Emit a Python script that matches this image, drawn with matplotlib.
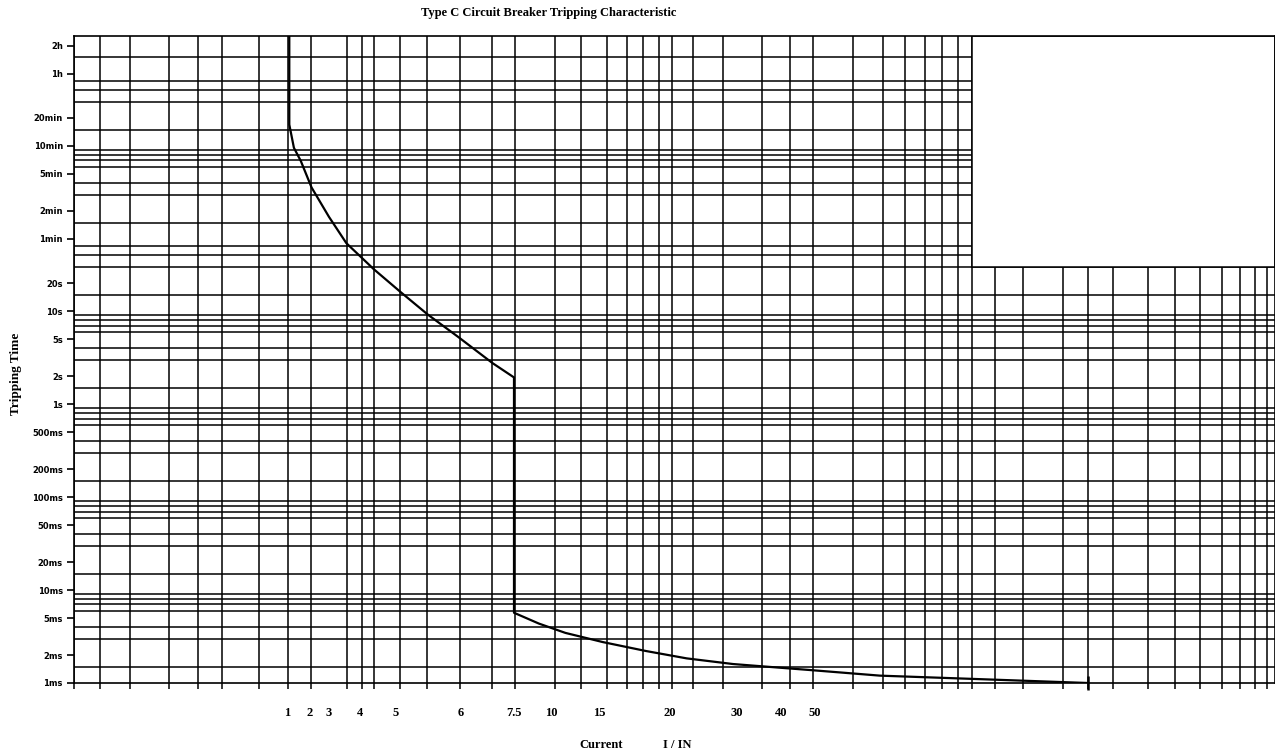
import numpy as np
import matplotlib
matplotlib.use('Agg')
import matplotlib.pyplot as plt
from matplotlib.patches import Rectangle
from matplotlib.ticker import NullFormatter

# tripping curve: I/IN against time in seconds
current = [1.1, 1.1, 1.30, 1.60, 2.08, 3.0, 3.56, 4.38, 5.07, 5.49, 5.96, 6.89, 7.5,
           7.5, 9.18, 11.5, 15.25, 18.3, 22.5, 29.4, 39.8, 49.5, 61.9, 80.2, 100]
trip_time = [9150, 1020, 574, 414, 215, 103.5, 54, 28.4, 16.1, 9.2, 5.27, 2.77, 1.94,
             0.0057, 0.00436, 0.00346, 0.00276, 0.00221, 0.00184, 0.0016, 0.00146,
             0.00137, 0.0012, 0.0011, 0.001]

x_ticks = [1, 2, 3, 4, 5, 6, 7.5, 10, 15, 20, 30, 40, 50]
x_labels = ['1', '2', '3', '4', '5', '6', '7.5', '10', '15', '20', '30', '40', '50']

y_ticks = [7200, 3600, 1200, 600, 300, 120, 60, 20, 10, 5, 2, 1,
           0.5, 0.2, 0.1, 0.05, 0.02, 0.01, 0.005, 0.002, 0.001]
y_labels = ['2h', '1h', '20min', '10min', '5min', '2min', '1min', '20s', '10s', '5s',
            '2s', '1s', '500ms', '200ms', '100ms', '50ms', '20ms', '10ms', '5ms',
            '2ms', '1ms']

# the paper's current axis is not a clean log scale, so map it piecewise
scale_I = [0.1] + x_ticks + [100, 250]
scale_px = [74, 287, 310, 329, 360, 396, 461, 514, 551, 599, 670, 737, 781, 815, 1088, 1275]

# vertical rulings of the paper (pixel columns)
grid_px = [74, 100, 130, 169, 198, 222, 259, 288, 311, 329, 347, 362, 374, 400, 427,
           460, 492, 515, 555, 581, 607, 627, 643, 659, 672, 693, 723, 762, 790, 813,
           853, 883, 905, 925, 942, 958, 972, 995, 1023, 1063, 1088, 1113, 1148, 1175,
           1200, 1222, 1240, 1255, 1267]
box_left_px = 972
t_top = 9150


def fwd(v):
  return np.interp(v, scale_I, scale_px)


def inv(v):
  return np.interp(v, scale_px, scale_I)


# horizontal rulings: time steps in each range
hgrid = []
for dec in [1e-3, 1e-2, 1e-1, 1]:
  hgrid += [dec * m for m in [1, 1.5, 2, 3, 4, 5, 6, 7, 8, 9]]
hgrid += [10, 15, 20, 30, 40, 50]
hgrid += [60 * m for m in [1, 1.5, 2, 3, 4, 5, 6, 7, 8, 9]]
hgrid += [60 * m for m in [10, 15, 20, 30, 40, 50]]
hgrid += [3600 * m for m in [1, 1.5, 2]]

W, H = 1275, 754
fig = plt.figure(figsize=(W / 100, H / 100), dpi=100)
ax = fig.add_axes([74 / W, 1 - 683 / H, (1275 - 74) / W, (683 - 36) / H])

ax.set_yscale('log')
ax.set_xscale('function', functions=(fwd, inv))
ax.set_xlim(0.1, 250)
ax.set_ylim(1e-3, t_top)

ax.set_xticks(inv(np.array(grid_px, dtype=float)), minor=True)
ax.set_xticks(x_ticks)
ax.set_xticklabels(x_labels, family='Liberation Serif', fontweight='bold', fontsize=9)
ax.set_yticks(hgrid, minor=True)
ax.set_yticks(y_ticks)
ax.set_yticklabels(y_labels, family='DejaVu Sans', fontweight='bold', fontsize=6)
ax.xaxis.set_minor_formatter(NullFormatter())
ax.yaxis.set_minor_formatter(NullFormatter())

ax.tick_params(axis='x', which='major', length=0, pad=17)
ax.tick_params(axis='x', which='minor', length=4, width=1.1, direction='out')
ax.tick_params(axis='y', which='major', length=5, width=1.2, direction='out', pad=3)
ax.tick_params(axis='y', which='minor', length=0)
ax.grid(True, which='minor', color='black', lw=1.1)
for s in ax.spines.values():
  s.set_linewidth(1.2)

# the upper right of the sheet is blank above 30 s
bx = inv(box_left_px)
ax.add_patch(Rectangle((bx, 30), 250 - bx, t_top - 30, facecolor='white',
                       edgecolor='black', lw=1.1, zorder=2))

ax.plot(current, trip_time, color='black', lw=1.6, zorder=3)
ax.plot([current[-1]], [trip_time[-1]], marker='|', ms=10, mew=1.8, color='black',
        clip_on=False, zorder=3)

fig.text(549 / W, 1 - 13 / H, 'Type C Circuit Breaker Tripping Characteristic',
         ha='center', va='center', family='Liberation Serif', fontweight='bold', fontsize=9)
fig.text(16 / W, 1 - 374 / H, 'Tripping Time', rotation=90, ha='center', va='center',
         family='Liberation Serif', fontweight='bold', fontsize=9.5)
fig.text(601 / W, 1 - 745 / H, 'Current', ha='center', va='center',
         family='Liberation Serif', fontweight='bold', fontsize=9)
fig.text(677 / W, 1 - 745 / H, 'I / IN', ha='center', va='center',
         family='Liberation Serif', fontweight='bold', fontsize=9)

fig.savefig('out.png', dpi=100)
